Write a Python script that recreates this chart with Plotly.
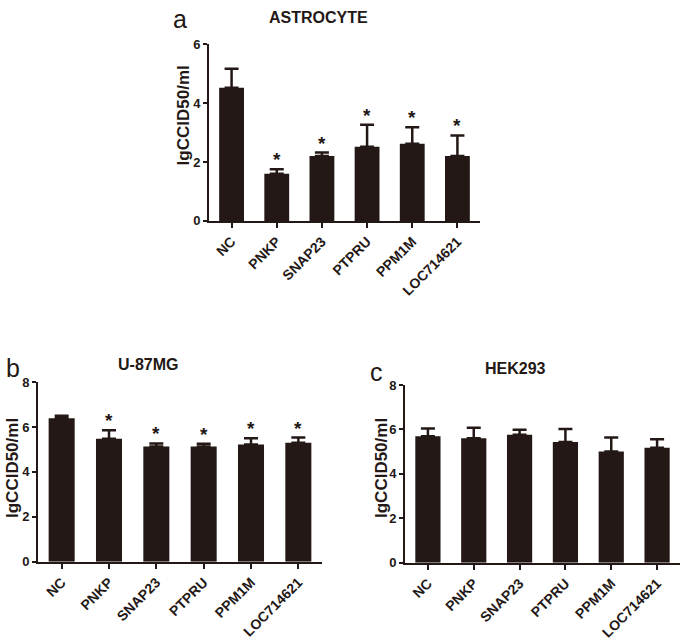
import plotly.graph_objects as go

categories = ["NC", "PNKP", "SNAP23", "PTPRU", "PPM1M", "LOC714621"]

astro_mean = [4.52, 1.60, 2.20, 2.52, 2.62, 2.20]
astro_err = [0.64, 0.15, 0.12, 0.74, 0.56, 0.70]
astro_sig = [False, True, True, True, True, True]

u87_mean = [6.39, 5.48, 5.13, 5.13, 5.22, 5.30]
u87_err = [0.11, 0.37, 0.14, 0.12, 0.28, 0.23]
u87_sig = [False, True, True, True, True, True]

hek_mean = [5.69, 5.60, 5.76, 5.43, 5.01, 5.18]
hek_err = [0.35, 0.48, 0.22, 0.59, 0.63, 0.38]
hek_sig = [False, False, False, False, False, False]

panel_titles = ["ASTROCYTE", "U-87MG", "HEK293"]
panel_letters = ["a", "b", "c"]
y_title = "lgCCID50/ml"

W, H = 684, 644
INK = "#231815"
FONT = "Liberation Sans, Arial, sans-serif"


def px_x(x):
    return x / W


def px_y(y):
    return 1 - y / H


panels = [
    dict(mean=astro_mean, err=astro_err, sig=astro_sig, ymax=6,
         xd=[px_x(209), px_x(480)], yd=[px_y(219), px_y(38)]),
    dict(mean=u87_mean, err=u87_err, sig=u87_sig, ymax=8,
         xd=[px_x(38), px_x(322)], yd=[px_y(568), px_y(384)]),
    dict(mean=hek_mean, err=hek_err, sig=hek_sig, ymax=8,
         xd=[px_x(405), px_x(680)], yd=[px_y(569), px_y(387)]),
]

fig = go.Figure()
annotations = []
layout = {}

for i, p in enumerate(panels):
    n = "" if i == 0 else str(i + 1)
    fig.add_trace(go.Bar(
        x=categories, y=p["mean"], width=0.55,
        marker=dict(color=INK, line=dict(width=0)),
        error_y=dict(type="data", array=p["err"], symmetric=False,
                     arrayminus=[0] * len(p["err"]),
                     color=INK, thickness=2.5, width=7),
        xaxis="x" + n, yaxis="y" + n, showlegend=False,
    ))
    layout["xaxis" + n] = dict(
        domain=p["xd"], anchor="y" + n, range=[-0.5, 5.5], type="category",
        showline=True, linecolor=INK, linewidth=2, ticks="outside",
        ticklen=5, tickwidth=1.8, tickcolor=INK, tickangle=-45,
        tickfont=dict(family=FONT, size=14, color=INK, weight="bold"),
        showgrid=False, zeroline=False, fixedrange=True,
    )
    layout["yaxis" + n] = dict(
        domain=p["yd"], anchor="x" + n, range=[0, p["ymax"]], dtick=2,
        showline=True, linecolor=INK, linewidth=2, ticks="outside",
        ticklen=4, tickwidth=1.8, tickcolor=INK,
        tickfont=dict(family=FONT, size=13, color=INK, weight="bold"),
        showgrid=False, zeroline=False, fixedrange=True,
    )
    for c, m, e, s in zip(categories, p["mean"], p["err"], p["sig"]):
        if s:
            annotations.append(dict(
                x=c, y=m + e, xref="x" + n, yref="y" + n, text="*",
                showarrow=False, yanchor="bottom", yshift=-3,
                font=dict(family=FONT, size=19, color=INK, weight="bold"),
            ))

# panel letters, titles, y-axis titles
letter_pos = [(180, 12), (13, 370), (376, 374)]
title_pos = [(318, 11), (148, 366), (515, 370)]
ytitle_pos = [(183, 111), (12, 472), (381, 472)]
for i in range(3):
    lx, ly = letter_pos[i]
    annotations.append(dict(x=px_x(lx), y=px_y(ly), xref="paper", yref="paper",
                            text=panel_letters[i], showarrow=False,
                            xanchor="center", yanchor="middle",
                            font=dict(family=FONT, size=25, color=INK)))
    tx, ty = title_pos[i]
    annotations.append(dict(x=px_x(tx), y=px_y(ty), xref="paper", yref="paper",
                            text=panel_titles[i], showarrow=False,
                            xanchor="center", yanchor="middle",
                            font=dict(family=FONT, size=16, color=INK, weight="bold")))
    yx, yy = ytitle_pos[i]
    annotations.append(dict(x=px_x(yx), y=px_y(yy), xref="paper", yref="paper",
                            text=y_title, showarrow=False, textangle=-90,
                            xanchor="center", yanchor="middle",
                            font=dict(family=FONT, size=17, color=INK, weight="bold")))

fig.update_layout(
    width=W, height=H, margin=dict(l=0, r=0, t=0, b=0),
    paper_bgcolor="white", plot_bgcolor="white",
    annotations=annotations, bargap=0.45, **layout,
)

fig.write_html("out.html", config={"displayModeBar": False},
               post_script="document.body.style.margin='0';document.body.style.overflow='hidden';")
